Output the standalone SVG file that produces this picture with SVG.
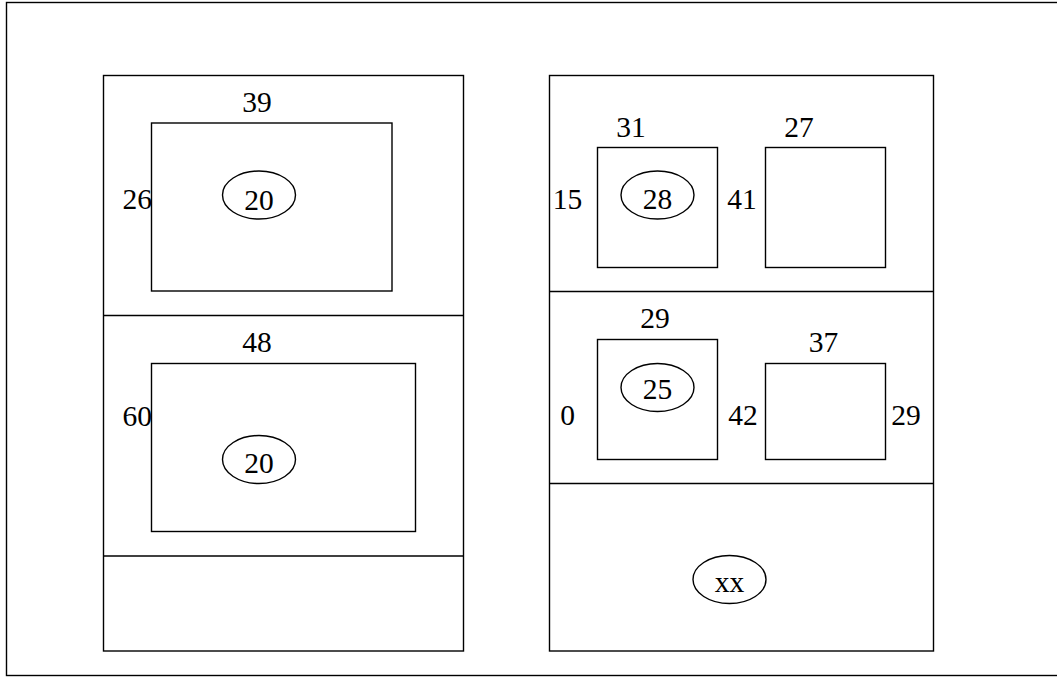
<svg xmlns="http://www.w3.org/2000/svg" width="1057" height="677" viewBox="0 0 1057 677">
<style>
rect{fill:none;stroke:#000;stroke-width:1.4}
line{stroke:#000;stroke-width:1.4}
ellipse{fill:none;stroke:#000;stroke-width:1.4}
text{font-family:"Liberation Serif","Times New Roman",serif;font-size:29.5px;fill:#000;text-anchor:middle}
</style>
<rect width="1057" height="677" style="fill:#fff;stroke:none"/>
<g id="frame"><rect x="6.5" y="2.5" width="1060" height="673"/></g>
<g id="left-panel">
<rect x="103.5" y="75.5" width="360" height="575.5"/>
<line x1="103.5" y1="315.5" x2="463.5" y2="315.5"/>
<line x1="103.5" y1="556" x2="463.5" y2="556"/>
</g>
<g id="left-top">
<rect x="151.5" y="123" width="240.5" height="168"/>
<text x="257" y="112">39</text>
<text x="152" y="209" style="text-anchor:end">26</text>
</g>
<g id="ellipse-l1"><ellipse cx="259" cy="195" rx="36.5" ry="24"/><text x="259" y="210">20</text></g>
<g id="left-mid">
<rect x="151.5" y="363.5" width="264" height="168"/>
<text x="257" y="352">48</text>
<text x="152" y="426" style="text-anchor:end">60</text>
</g>
<g id="ellipse-l2"><ellipse cx="259" cy="459.5" rx="36.5" ry="24"/><text x="259" y="473">20</text></g>
<g id="right-panel">
<rect x="549.5" y="75.5" width="384" height="575.5"/>
<line x1="549.5" y1="291.5" x2="933.5" y2="291.5"/>
<line x1="549.5" y1="483.5" x2="933.5" y2="483.5"/>
</g>
<g id="box-31"><rect x="597.5" y="147.5" width="120" height="120"/><text x="631" y="136.5">31</text></g>
<g id="ellipse-28"><ellipse cx="657.5" cy="195" rx="36.5" ry="24"/><text x="657.5" y="209">28</text></g>
<g id="box-27"><rect x="765.5" y="147.5" width="120" height="120"/><text x="799" y="136.5">27</text></g>
<g id="labels-top"><text x="567.5" y="208.5">15</text><text x="742" y="208.5">41</text></g>
<g id="box-29"><rect x="597.5" y="339.5" width="120" height="120"/><text x="655" y="328">29</text></g>
<g id="ellipse-25"><ellipse cx="657.5" cy="387.5" rx="36.5" ry="24"/><text x="657.5" y="399">25</text></g>
<g id="box-37"><rect x="765.5" y="363.5" width="120" height="96"/><text x="823.5" y="352">37</text></g>
<g id="labels-mid"><text x="567.5" y="424.5">0</text><text x="743" y="424.5">42</text><text x="906" y="424.5">29</text></g>
<g id="ellipse-xx"><ellipse cx="729.5" cy="579.5" rx="36.5" ry="24"/><text x="729.5" y="592">xx</text></g>
<g id="connectors"></g>
</svg>
